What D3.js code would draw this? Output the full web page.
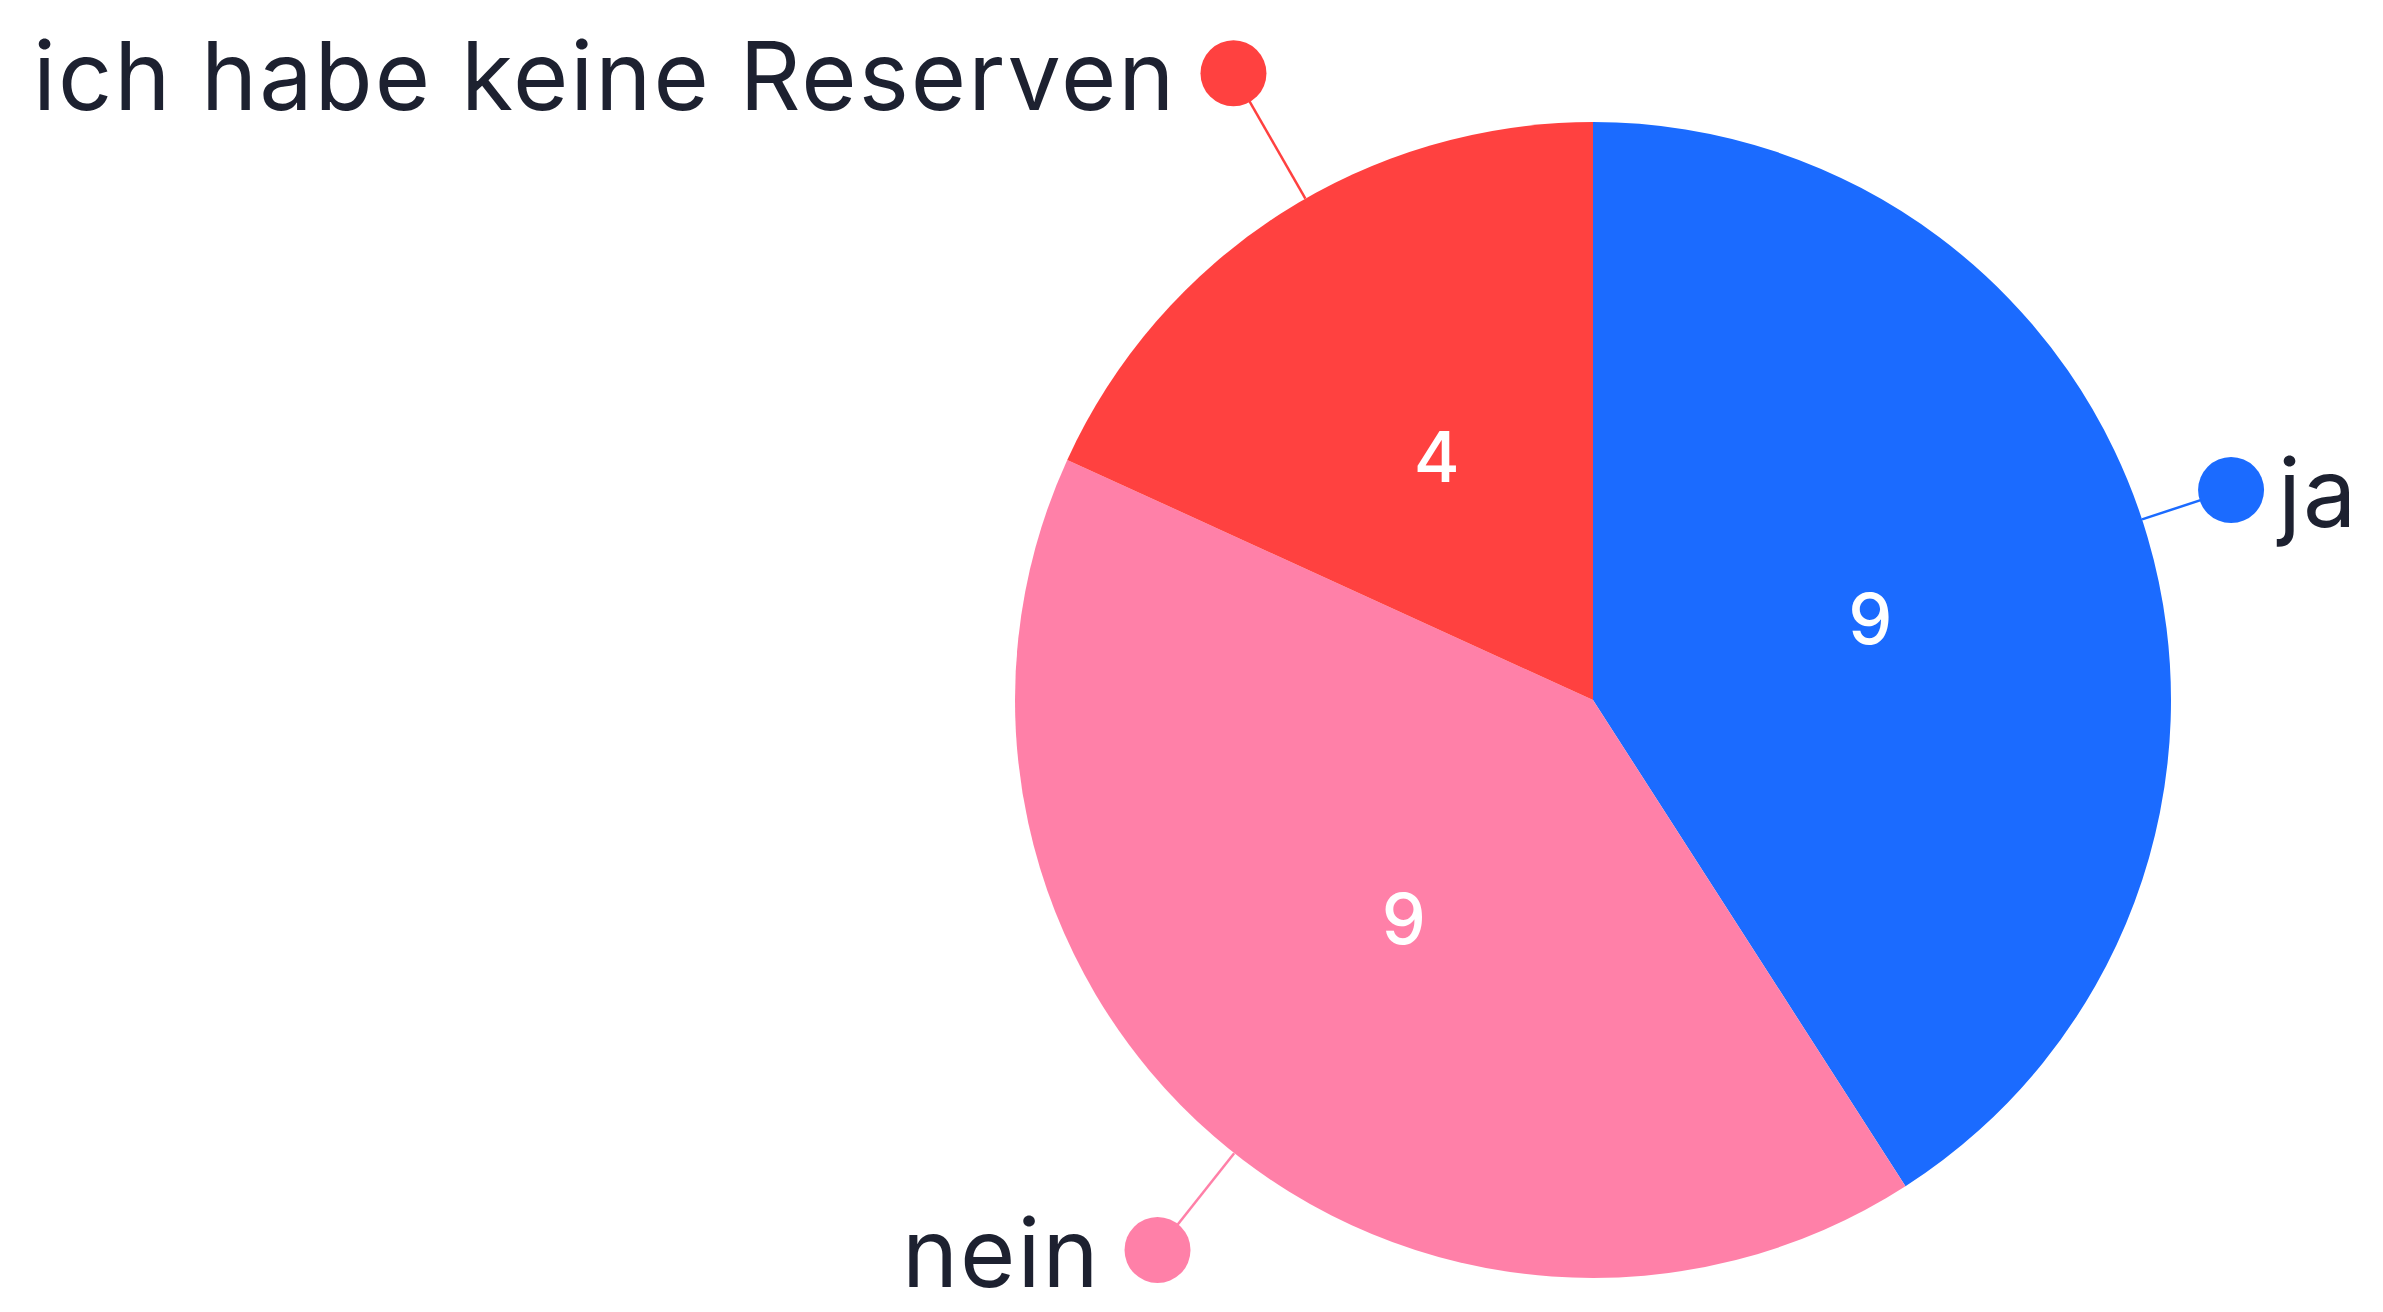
<!DOCTYPE html>
<html>
<head>
<meta charset="utf-8">
<script src="https://cdn.jsdelivr.net/npm/d3@7"></script>
<style>
  html, body { margin: 0; padding: 0; background: #fff; }
  svg { display: block; }
  .lbl { font-family: Inter, "Noto Sans", sans-serif; font-size: 95px; letter-spacing: 2px; fill: #1d2130; }
  .val { font-family: Inter, "Noto Sans", sans-serif; font-size: 70px; font-weight: 500; fill: #fff; }
</style>
</head>
<body>
<svg id="chart"></svg>
<script>
var width = 2383;
var height = 1312;

// answers in the order they appear clockwise from 12 o'clock
var categories = ["ja", "nein", "ich habe keine Reserven"];
var counts = [9, 9, 4];
var colours = ["#1b6bff", "#ff80a8", "#ff4140"];

var cx = 1593, cy = 700, radius = 578;
var labelRx = 665, labelRy = 745;
var dotR = 33;

var svg = d3.select("#chart").attr("width", width).attr("height", height);
var g = svg.append("g").attr("transform", "translate(" + cx + "," + cy + ")");

var data = categories.map(function(d, i) { return {name: d, value: counts[i], colour: colours[i]}; });

var pie = d3.pie().sort(null).value(function(d) { return d.value; });
var arc = d3.arc().innerRadius(0).outerRadius(radius);
var arcs = pie(data);

g.selectAll("path.slice")
  .data(arcs)
  .enter()
  .append("path")
  .attr("class", "slice")
  .attr("d", arc)
  .attr("fill", function(d) { return d.data.colour; });

g.selectAll("text.val")
  .data(arcs)
  .enter()
  .append("text")
  .attr("class", "val")
  .attr("text-anchor", "middle")
  .attr("dominant-baseline", "central")
  .attr("transform", function(d) { return "translate(" + arc.centroid(d) + ")"; })
  .text(function(d) { return d.data.value; });

// outside labels sit on an ellipse round the pie, kept inside the view
function labelPos(d) {
  var a = (d.startAngle + d.endAngle) / 2;
  var x = Math.sin(a) * labelRx;
  var y = -Math.cos(a) * labelRy;
  y = Math.max(52 - cy, Math.min(height - 62 - cy, y));
  return [x, y];
}

var lab = g.selectAll("g.outlabel")
  .data(arcs)
  .enter()
  .append("g")
  .attr("class", "outlabel");

// connector points at the centre, starts on the rim
lab.append("line")
  .attr("x1", function(d) { var p = labelPos(d), l = Math.hypot(p[0], p[1]); return p[0] / l * radius; })
  .attr("y1", function(d) { var p = labelPos(d), l = Math.hypot(p[0], p[1]); return p[1] / l * radius; })
  .attr("x2", function(d) { return labelPos(d)[0]; })
  .attr("y2", function(d) { return labelPos(d)[1]; })
  .attr("stroke", function(d) { return d.data.colour; })
  .attr("stroke-width", 2.5);

lab.append("circle")
  .attr("cx", function(d) { return labelPos(d)[0]; })
  .attr("cy", function(d) { return labelPos(d)[1]; })
  .attr("r", dotR)
  .attr("fill", function(d) { return d.data.colour; });

lab.append("text")
  .attr("class", "lbl")
  .attr("x", function(d) {
    var p = labelPos(d);
    return p[0] < 0 ? p[0] - dotR - 24 : p[0] + dotR + 14;
  })
  .attr("y", function(d) { return labelPos(d)[1] + 37; })
  .attr("text-anchor", function(d) { return labelPos(d)[0] < 0 ? "end" : "start"; })
  .text(function(d) { return d.data.name; });
</script>
</body>
</html>
